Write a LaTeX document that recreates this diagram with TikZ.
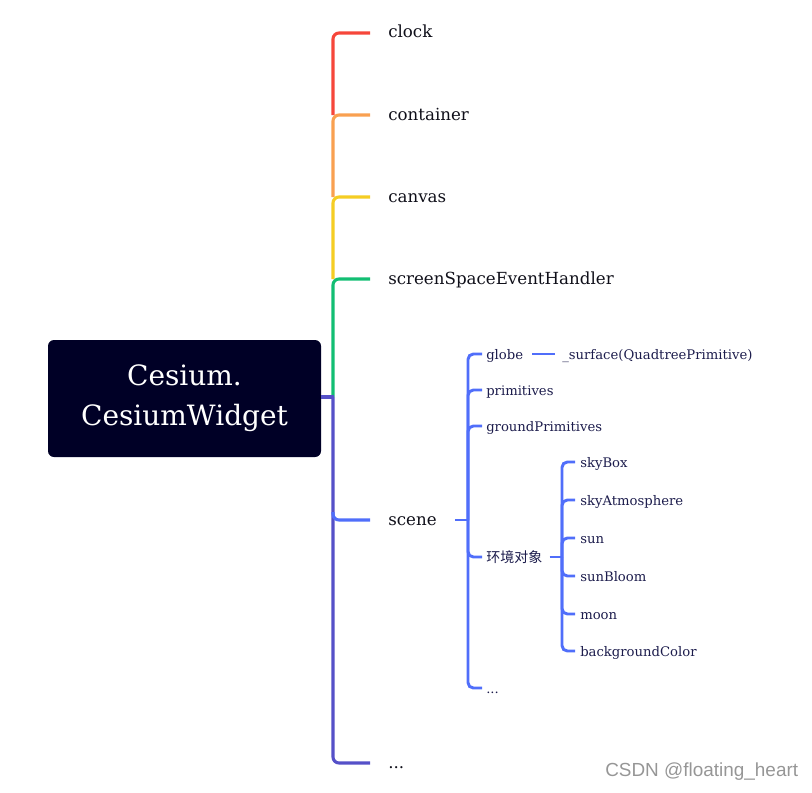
\documentclass[tikz,border=0pt]{standalone}
\usepackage{fontspec}
\setmainfont{DejaVu Serif}
\newfontfamily\cjkfont{Noto Sans CJK SC}
\newfontfamily\wmfont{Liberation Sans}
\usetikzlibrary{calc}
\definecolor{cred}{RGB}{246,70,58}
\definecolor{corange}{RGB}{249,160,80}
\definecolor{cyellow}{RGB}{245,205,35}
\definecolor{cgreen}{RGB}{18,190,115}
\definecolor{cpurple}{RGB}{85,80,200}
\definecolor{cblue}{RGB}{80,110,250}
\definecolor{rootfill}{RGB}{0,0,38}
\definecolor{txtone}{RGB}{15,15,25}
\definecolor{txttwo}{RGB}{28,28,76}
\definecolor{wmgray}{RGB}{150,150,150}
\begin{document}
\begin{tikzpicture}[x=0.75pt,y=-0.75pt,
  lvlone/.style={anchor=west, inner sep=0pt, text height=0.75em, text depth=0pt,
    font=\fontsize{12.5}{15}\selectfont, text=txtone},
  lvltwo/.style={anchor=west, inner sep=0pt, text height=0.75em, text depth=0pt,
    font=\fontsize{9.9}{12}\selectfont, text=txttwo},
  rootbox/.style={rectangle, rounded corners=4.5pt, fill=rootfill, text=white,
    align=center, minimum width=204.75pt, minimum height=87.75pt, inner sep=0pt,
    font=\fontsize{21}{30}\selectfont},
  link/.style={line width=2.3pt, rounded corners=4.5pt},
  sublink/.style={line width=2.2pt, rounded corners=4pt, cblue}
]
\useasboundingbox (0,0) rectangle (812,792);

% root
\node[rootbox] (root) at (184.5,398.5) {Cesium.\\CesiumWidget};
\coordinate (J) at (333,397);

% first level
\node[lvlone] (clock) at (388,33) {clock};
\node[lvlone] (container) at (388,115) {container};
\node[lvlone] (canvas) at (388,197) {canvas};
\node[lvlone] (sseh) at (388,279) {screenSpaceEventHandler};
\node[lvlone] (scene) at (388,520) {scene};
\node[lvlone] (dotsA) at (388,763) {...};

\draw[link,cred] (J |- container.west) |- ($(clock.west)+(-18,0)$);
\draw[link,corange] (J |- canvas.west) |- ($(container.west)+(-18,0)$);
\draw[link,cyellow] (J |- sseh.west) |- ($(canvas.west)+(-18,0)$);
\draw[link,cgreen] (J) |- ($(sseh.west)+(-18,0)$);
\draw[line width=2.3pt,cpurple] (root.east |- J) -- ($(J)+(1.1,0)$);
\draw[link,cpurple] (J) |- ($(dotsA.west)+(-18,0)$);
\draw[link,cblue] ($(J |- scene.west)+(0,-8)$) |- ($(scene.west)+(-18,0)$);

% scene subtree
\coordinate (S) at (468,520);
\node[lvltwo] (globe) at (486,354) {globe};
\node[lvltwo] (surface) at (562,354) {\_surface(QuadtreePrimitive)};
\node[lvltwo] (prims) at (486,390) {primitives};
\node[lvltwo] (gprims) at (486,426) {groundPrimitives};
\node[lvltwo, font=\cjkfont\fontsize{10.5}{12}\selectfont] (env) at (486,557) {环境对象};
\node[lvltwo] (dotsB) at (486,688) {...};

\draw[sublink] ($(scene.east)+(18,0)$) -- (S);
\draw[sublink] (S) |- ($(globe.west)+(-4,0)$);
\draw[sublink] (S) |- ($(prims.west)+(-4,0)$);
\draw[sublink] (S) |- ($(gprims.west)+(-4,0)$);
\draw[sublink] (S) |- ($(env.west)+(-4,0)$);
\draw[sublink] (S) |- ($(dotsB.west)+(-4,0)$);
\draw[sublink] ($(globe.east)+(9,0)$) -- ($(surface.west)+(-7,0)$);

% environment subtree
\coordinate (E) at (562,557);
\node[lvltwo] (skybox) at (580,462) {skyBox};
\node[lvltwo] (skyatm) at (580,500) {skyAtmosphere};
\node[lvltwo] (sun) at (580,538) {sun};
\node[lvltwo] (sunbloom) at (580,576) {sunBloom};
\node[lvltwo] (moon) at (580,614) {moon};
\node[lvltwo] (bgcolor) at (580,651) {backgroundColor};

\draw[sublink] ($(env.east)+(7,0)$) -- (E);
\draw[sublink] (E) |- ($(skybox.west)+(-5,0)$);
\draw[sublink] (E) |- ($(skyatm.west)+(-5,0)$);
\draw[sublink] (E) |- ($(sun.west)+(-5,0)$);
\draw[sublink] (E) |- ($(sunbloom.west)+(-5,0)$);
\draw[sublink] (E) |- ($(moon.west)+(-5,0)$);
\draw[sublink] (E) |- ($(bgcolor.west)+(-5,0)$);

% watermark
\node[anchor=west, inner sep=0pt, font=\wmfont\fontsize{14.2}{16}\selectfont, text=wmgray] (wm) at (605,772) {CSDN @floating\_heart};
\end{tikzpicture}
\end{document}
